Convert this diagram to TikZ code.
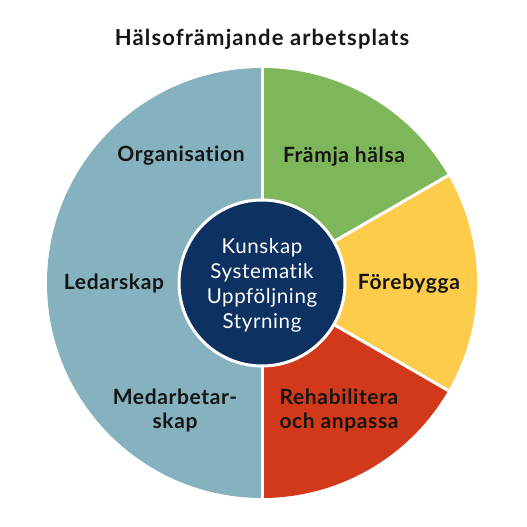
\documentclass[tikz,border=0pt]{standalone}
\usepackage{fontspec}
\setmainfont{Lato}[LetterSpace=3,Ligatures=NoCommon]
\newfontfamily\titlefont{Lato}[LetterSpace=5,Ligatures=NoCommon]
\definecolor{segblue}{HTML}{85B2BE}
\definecolor{seggreen}{HTML}{7DB75A}
\definecolor{segyellow}{HTML}{FDCC4B}
\definecolor{segred}{HTML}{D2391A}
\definecolor{navy}{HTML}{0D3160}
\definecolor{txt}{HTML}{151515}
\tikzset{
  seg/.style={draw=white, line width=3pt, line join=round},
  lab/.style={font=\fontsize{21}{24}\selectfont\bfseries, text=txt, align=center, inner sep=0pt},
  core/.style={font=\fontsize{20.5}{25}\selectfont, text=white, align=center, inner sep=0pt},
}
\begin{document}
\begin{tikzpicture}[x=1pt,y=1pt]
\useasboundingbox[fill=white] (0,0) rectangle (527,527);
\coordinate (c) at (262,244);
\fill[segblue] (c) -- ++(90:215) arc (90:270:215) -- cycle;
\fill[seggreen] (c) -- ++(30:215) arc (30:90:215) -- cycle;
\fill[segyellow] (c) -- ++(-30:215) arc (-30:30:215) -- cycle;
\fill[segred] (c) -- ++(-90:215) arc (-90:-30:215) -- cycle;
\draw[seg] (c) -- ++(90:216);
\draw[seg] (c) -- ++(-90:216);
\draw[seg] (c) -- ++(30:216);
\draw[seg] (c) -- ++(-30:216);
\node[circle, fill=navy, draw=white, line width=3pt, minimum size=166pt, inner sep=0pt] (hub) at (c) {};
\node[core] (kun) at (262,527-285) {Kunskap\\Systematik\\Uppföljning\\Styrning};
\node[font=\titlefont\fontsize{22}{25}\selectfont\bfseries, text=txt, inner sep=0pt, anchor=base] (title) at (262,527-46) {Hälsofrämjande arbetsplats};
\node[lab] (org) at (181,527-156) {Organisation};
\node[lab] (fram) at (344,527-157) {Främja hälsa};
\node[lab] (led) at (114,527-283) {Ledarskap};
\node[lab] (fore) at (409,527-284) {Förebygga};
\node[lab] (med) at (175,527-410) {Medarbetar-\\skap};
\node[lab] (reh) at (339,527-410) {Rehabilitera\\och anpassa};
\end{tikzpicture}
\end{document}
